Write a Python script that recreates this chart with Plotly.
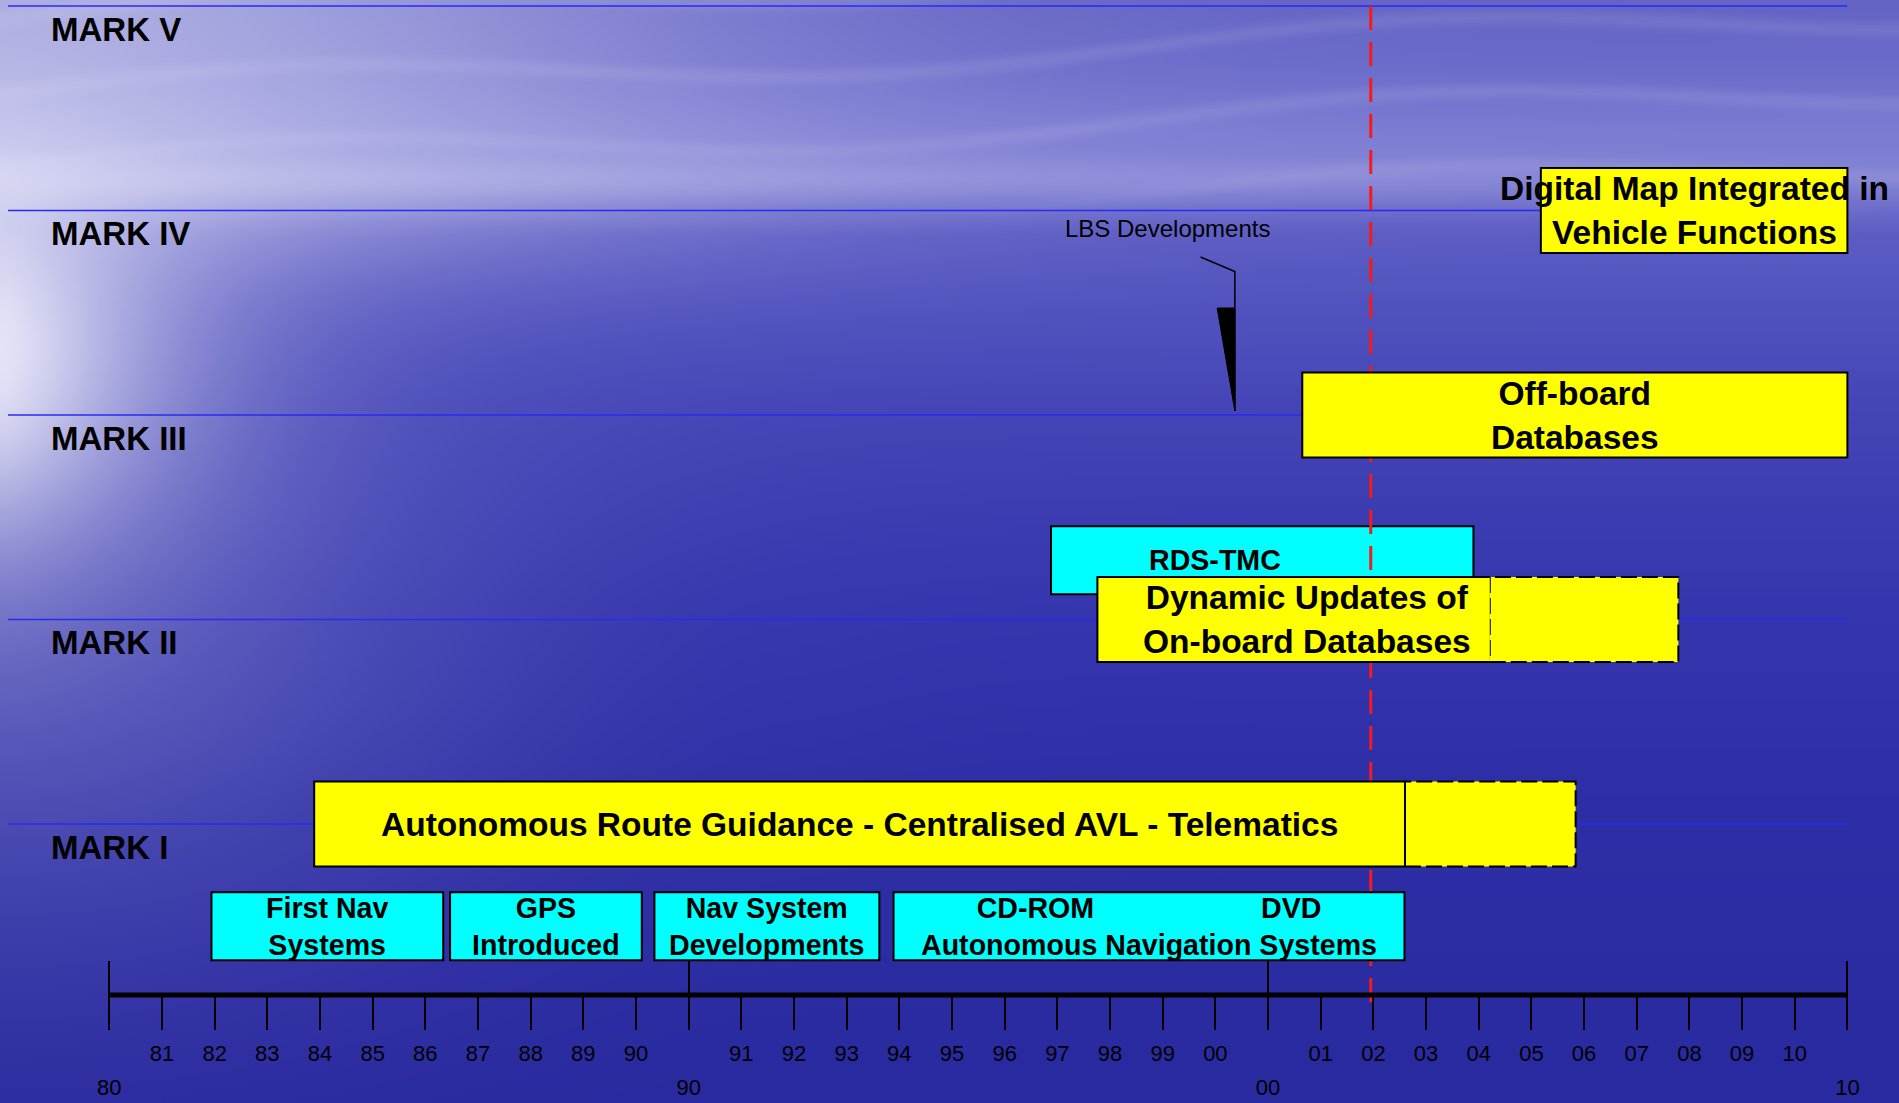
import base64
import struct
import zlib

import numpy as np
import plotly.graph_objects as go

# ------------------------------------------------------------------
# Data
# ------------------------------------------------------------------
mark_names = ["MARK I", "MARK II", "MARK III", "MARK IV", "MARK V"]
mark_levels = [1, 2, 3, 4, 5]

# Timeline: 34 tick positions (0 .. 33), small year labels and decade labels
minor_positions = list(range(34))
minor_labels = ([""] + ["81", "82", "83", "84", "85", "86", "87", "88", "89", "90"]
                + [""] + ["91", "92", "93", "94", "95", "96", "97", "98", "99", "00"]
                + [""] + ["01", "02", "03", "04", "05", "06", "07", "08", "09", "10"]
                + [""])
major_positions = [0, 11, 22, 33]
major_labels = ["80", "90", "00", "10"]

# Cyan milestone boxes (timeline start/end, row level)
milestone_text = [
    "First Nav<br>Systems",
    "GPS<br>Introduced",
    "Nav System<br>Developments",
    "CD-ROM" + "\u00a0" * 21 + "DVD<br>Autonomous Navigation Systems",
    "RDS-TMC",
]
milestone_start = [1.94, 6.47, 10.35, 14.89, 17.88]
milestone_end = [6.34, 10.11, 14.62, 24.59, 25.90]
milestone_level = [0.5, 0.5, 0.5, 0.5, 2.29]

# Yellow generation phases (solid span, plus dashed outlook span)
phase_text = [
    "Autonomous Route Guidance - Centralised AVL - Telematics",
    "Dynamic Updates of<br>On-board Databases",
    "Off-board<br>Databases",
    "Digital Map Integrated in<br>Vehicle Functions",
]
phase_level = [1, 2, 3, 4]
phase_start = [3.89, 18.76, 22.65, 27.18]
phase_end = [24.60, 26.21, 33.0, 33.0]
phase_outlook_end = [27.84, 29.79, None, None]

today_position = 23.95          # "02"
lbs_text = "LBS Developments"
lbs_position = 21.37
lbs_level = 3

# ------------------------------------------------------------------
# Geometry / style
# ------------------------------------------------------------------
W, H = 1899, 1103
PX_PER_SLOT = 52.67
SLOT0_PX = 109.3
PX_PER_LEVEL = 204.5
LEVEL1_PX = 824.0

x_range = [-SLOT0_PX / PX_PER_SLOT, (W - SLOT0_PX) / PX_PER_SLOT]
y_range = [1 - (H - LEVEL1_PX) / PX_PER_LEVEL, 1 + LEVEL1_PX / PX_PER_LEVEL]

MILESTONE_H = 68 / PX_PER_LEVEL
PHASE_H = 85 / PX_PER_LEVEL
AXIS_Y_PX = 995
MAJOR_TOP_PX = 960
LINE_START = (8 - SLOT0_PX) / PX_PER_SLOT

FONT = "Liberation Sans, Arial, sans-serif"
CYAN = "#00ffff"
YELLOW = "#ffff00"
MARK_BLUE = "#2a2af5"
RED = "#f21c1c"

# label placement tweaks (pixels)
label_shift = {"RDS-TMC": ("left", 96), "Dynamic Updates of<br>On-board Databases": ("center", 13)}
dashed_divider = {"Dynamic Updates of<br>On-board Databases"}


def paper_y(px):
    return 1 - px / H


# ------------------------------------------------------------------
# Background (sky over sea), rendered as a small PNG and stretched
# ------------------------------------------------------------------
def make_background():
    bw, bh = 476, 276
    xs = np.linspace(0, W, bw)[None, :]
    ys = np.linspace(0, H, bh)[:, None]
    prof_y = [0, 60, 130, 175, 235, 400, 600, 800, 1103]
    prof_c = [(100, 100, 197), (106, 106, 202), (124, 124, 211), (122, 122, 210),
              (92, 92, 196), (70, 70, 184), (54, 54, 174), (46, 46, 166), (42, 42, 160)]
    base = np.stack([np.interp(ys[:, 0], prof_y, [c[i] for c in prof_c]) for i in range(3)], -1)
    base = np.broadcast_to(base[:, None, :], (bh, bw, 3)).astype(float)

    sky = 0.5 * np.exp(-(xs / 700.0) ** 2) / (1 + np.exp((ys - 250) / 35.0))
    glare = 0.92 * np.exp(-(xs / 180.0) ** 1.4) * np.exp(-((ys - 350) / 210.0) ** 2)
    horizon = 0.26 * np.exp(-((ys - 180) / 26.0) ** 2) * (1 - 0.65 * xs / W)
    water = 0.2 * np.exp(-(xs / 480.0) ** 2) * np.exp(-((ys - 660) / 300.0) ** 2)
    # soft wisps of cloud across the sky band
    wisp_phase = ys * 0.085 + xs * 0.0035 + 1.4 * np.sin(xs * 0.0055)
    wisps = 0.10 * np.clip(np.sin(wisp_phase), 0, 1) ** 4 / (1 + np.exp((ys - 190) / 20.0))
    t = 1 - (1 - sky) * (1 - glare) * (1 - horizon) * (1 - water) * (1 - wisps)
    t = np.clip(t, 0, 1)[..., None]
    white = np.array([240, 240, 252], float)
    img = base * (1 - t) + white * t
    img = np.clip(img, 0, 255).astype(np.uint8)

    raw = b"".join(b"\x00" + img[r].tobytes() for r in range(bh))

    def chunk(tag, data):
        return (struct.pack(">I", len(data)) + tag + data
                + struct.pack(">I", zlib.crc32(tag + data) & 0xFFFFFFFF))

    png = (b"\x89PNG\r\n\x1a\n"
           + chunk(b"IHDR", struct.pack(">IIBBBBB", bw, bh, 8, 2, 0, 0, 0))
           + chunk(b"IDAT", zlib.compress(raw, 9))
           + chunk(b"IEND", b""))
    return "data:image/png;base64," + base64.b64encode(png).decode()


# ------------------------------------------------------------------
# Figure
# ------------------------------------------------------------------
fig = go.Figure()
fig.add_trace(go.Scatter(x=[None], y=[None], xaxis="x", yaxis="y",
                         showlegend=False, hoverinfo="skip"))
fig.add_trace(go.Scatter(x=[None], y=[None], xaxis="x2", yaxis="y",
                         showlegend=False, hoverinfo="skip"))

shapes = []
annotations = []

# MARK guide lines and labels
for name, lvl in zip(mark_names, mark_levels):
    shapes.append(dict(type="line", xref="x", yref="y", x0=LINE_START, x1=33,
                       y0=lvl, y1=lvl, line=dict(color=MARK_BLUE, width=1.5)))
    annotations.append(dict(text=name, xref="paper", yref="y", x=48.5 / W, y=lvl,
                            yshift=-23, xanchor="left", yanchor="middle", showarrow=False,
                            font=dict(family=FONT, size=33, color="black", weight="bold")))


def milestone_shape(i):
    lvl = milestone_level[i]
    return dict(type="rect", xref="x", yref="y",
                x0=milestone_start[i], x1=milestone_end[i],
                y0=lvl - MILESTONE_H / 2, y1=lvl + MILESTONE_H / 2,
                fillcolor=CYAN, line=dict(color="black", width=2))


# upper milestone boxes sit behind the "today" line, lower ones in front
upper = [i for i in range(len(milestone_text)) if milestone_level[i] > 1]
lower = [i for i in range(len(milestone_text)) if milestone_level[i] <= 1]
for i in upper:
    shapes.append(milestone_shape(i))

shapes.append(dict(type="line", xref="x", yref="paper", x0=today_position, x1=today_position,
                   y0=paper_y(1002), y1=1, line=dict(color=RED, width=3, dash="24px,12px")))

for i in lower:
    shapes.append(milestone_shape(i))

for i, txt in enumerate(milestone_text):
    anchor, shift = label_shift.get(txt, ("center", 0))
    x = milestone_start[i] if anchor == "left" else (milestone_start[i] + milestone_end[i]) / 2
    annotations.append(dict(text=txt, xref="x", yref="y", x=x, y=milestone_level[i],
                            xanchor=anchor, xshift=shift, yanchor="middle", showarrow=False,
                            font=dict(family=FONT, size=28.6, color="black", weight="bold")))

# Yellow phases
for i, txt in enumerate(phase_text):
    lvl = phase_level[i]
    y0, y1 = lvl - PHASE_H / 2, lvl + PHASE_H / 2
    x0, x1 = phase_start[i], phase_end[i]
    ext = phase_outlook_end[i]
    if ext is not None:
        shapes.append(dict(type="rect", xref="x", yref="y", x0=x1, x1=ext, y0=y0, y1=y1,
                           fillcolor=YELLOW, line=dict(color="black", width=2, dash="16px,5px")))
    if txt in dashed_divider:
        path = f"M {x1},{y1} L {x0},{y1} L {x0},{y0} L {x1},{y0}"
        shapes.append(dict(type="path", xref="x", yref="y", path=path,
                           fillcolor=YELLOW, line=dict(color="black", width=2)))
    else:
        shapes.append(dict(type="rect", xref="x", yref="y", x0=x0, x1=x1, y0=y0, y1=y1,
                           fillcolor=YELLOW, line=dict(color="black", width=2)))
    anchor, shift = label_shift.get(txt, ("center", 0))
    annotations.append(dict(text=txt, xref="x", yref="y", x=(x0 + x1) / 2, y=lvl,
                            xanchor=anchor, xshift=shift, yanchor="middle", showarrow=False,
                            font=dict(family=FONT, size=33.5, color="black", weight="bold")))

# LBS callout (pixel offsets relative to the pointed-at position)
shapes.append(dict(type="path", xref="x", yref="y", xsizemode="pixel", ysizemode="pixel",
                   xanchor=lbs_position, yanchor=lbs_level,
                   path="M -34.3,158 L 0,143.4 L 0,4",
                   line=dict(color="black", width=1.5)))
shapes.append(dict(type="path", xref="x", yref="y", xsizemode="pixel", ysizemode="pixel",
                   xanchor=lbs_position, yanchor=lbs_level,
                   path="M -17.7,107 L 0,107 L 0,4 Z",
                   fillcolor="black", line=dict(color="black", width=1)))
annotations.append(dict(text=lbs_text, xref="x", yref="y", x=lbs_position, y=lbs_level,
                        xanchor="left", yanchor="middle", xshift=-172, yshift=186.5,
                        showarrow=False, font=dict(family=FONT, size=24, color="black")))

# Timeline base line
shapes.append(dict(type="line", xref="x", yref="paper", x0=0, x1=33,
                   y0=paper_y(AXIS_Y_PX), y1=paper_y(AXIS_Y_PX),
                   line=dict(color="black", width=5)))

fig.update_layout(
    width=W, height=H,
    margin=dict(l=0, r=0, t=0, b=0),
    paper_bgcolor="#2c2ca2", plot_bgcolor="rgba(0,0,0,0)",
    showlegend=False,
    shapes=shapes,
    annotations=annotations,
    images=[dict(source=make_background(), xref="paper", yref="paper", x=0, y=1,
                 sizex=1, sizey=1, xanchor="left", yanchor="top",
                 sizing="stretch", layer="below")],
    xaxis=dict(range=x_range, anchor="free", position=paper_y(AXIS_Y_PX),
               showline=False, showgrid=False, zeroline=False,
               tickmode="array", tickvals=minor_positions, ticktext=minor_labels,
               ticks="outside", ticklen=34, tickwidth=1.5, tickcolor="black",
               tickfont=dict(family=FONT, size=22, color="black"),
               ticklabelstandoff=5, fixedrange=True),
    xaxis2=dict(range=x_range, overlaying="x", anchor="free", position=paper_y(MAJOR_TOP_PX),
                side="bottom",
                showline=False, showgrid=False, zeroline=False,
                tickmode="array", tickvals=major_positions, ticktext=major_labels,
                ticks="outside", ticklen=69, tickwidth=1.5, tickcolor="black",
                tickfont=dict(family=FONT, size=22, color="black"),
                ticklabelstandoff=39, fixedrange=True),
    yaxis=dict(range=y_range, visible=False, fixedrange=True),
)

fig.write_html("out.html")
